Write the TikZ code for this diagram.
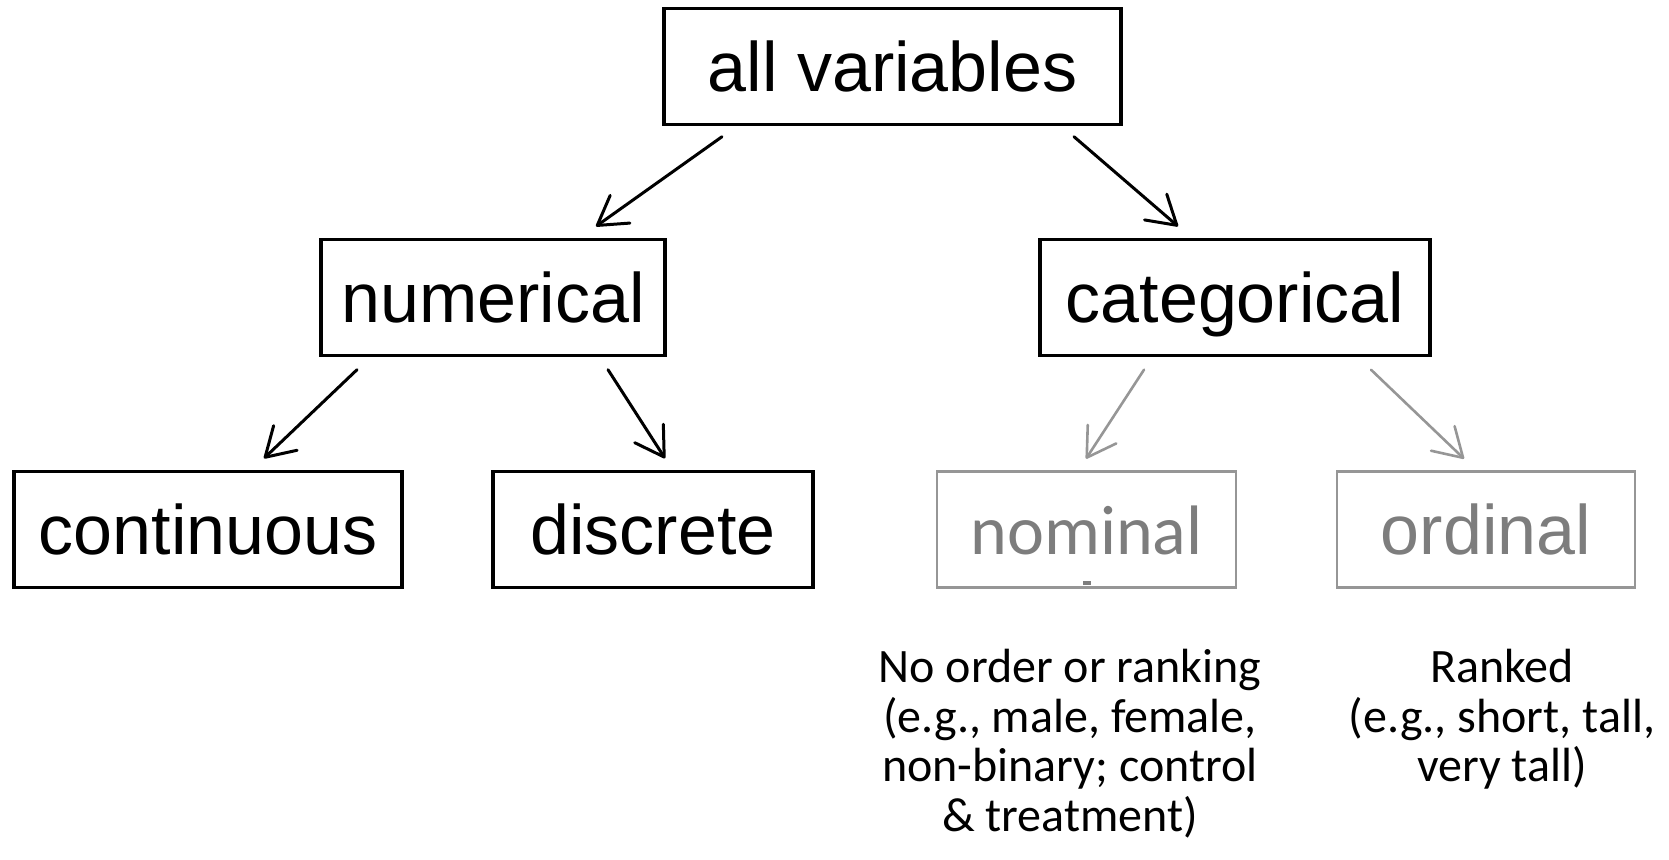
\documentclass[tikz,border=0pt]{standalone}
\usepackage{fontspec}
\setmainfont{Liberation Sans}
\newfontfamily\calibri{Carlito}
\usetikzlibrary{arrows.meta,calc}
\definecolor{mutedtext}{RGB}{125,125,125}
\definecolor{mutedline}{RGB}{150,150,150}
\begin{document}
\begin{tikzpicture}[x=0.5pt,y=-0.5pt,
  box/.style={draw, line width=1.7pt, inner sep=0pt, minimum height=58pt,
    text height=25.2pt, text depth=0pt, font=\fontsize{35}{40}\selectfont},
  mutedbox/.style={box, draw=mutedline, line width=1.3pt, text=mutedtext},
  arr/.style={line width=1.5pt, line cap=round,
    -{Straight Barb[length=14pt,width=17pt,line width=1.5pt,round]}},
  mutedarr/.style={arr, draw=mutedline, line width=1.3pt,
    -{Straight Barb[length=14pt,width=17pt,line width=1.3pt,round]}},
  note/.style={font=\calibri\fontsize{24}{24.8}\selectfont, align=center, inner sep=0pt, anchor=north}]
\useasboundingbox (0,0) rectangle (1669,859);

% boxes
\node[box, minimum width=228.5pt] (all) at (892.5,66.5) {all variables};
\node[box, minimum width=172pt] (num) at (493,297.5) {numerical};
\node[box, minimum width=195pt] (cat) at (1235,297.5) {categorical};
\node[box, minimum width=194pt] (cont) at (208,529.5) {continuous};
\node[box, minimum width=160pt] (disc) at (653,529.5) {discrete};
\node[mutedbox, minimum width=149.5pt, font=\calibri\fontsize{35}{40}\selectfont] (nom) at (1086.5,529.5) {nominal};
\node[mutedbox, minimum width=149pt] (ord) at (1486,529.5) {ordinal};

% small stray mark inside the nominal box
\fill[mutedtext] ($(nom.south)+(-4,-8)$) rectangle ++(8,4);

% connectors
\draw[arr] ($(all.south)+(-170.5,10.5)$) -- ($(num.north)+(103,-11.5)$);
\draw[arr] ($(all.south)+(181.5,10.5)$) -- ($(cat.north)+(-57,-11.5)$);
\draw[arr] ($(num.south)+(-136,12.5)$) -- ($(cont.north)+(56,-11.5)$);
\draw[arr] ($(num.south)+(115,12.5)$) -- ($(disc.north)+(12,-11.5)$);
\draw[mutedarr] ($(cat.south)+(-91,12.5)$) -- ($(nom.north)+(-0.5,-11.5)$);
\draw[mutedarr] ($(cat.south)+(136,12.5)$) -- ($(ord.north)+(-22,-11.5)$);

% descriptions
\node[note] (nomnote) at (1070,649) {No order or ranking\\(e.g., male, female,\\non-binary; control\\\& treatment)};
\node[note] (ordnote) at (1502,649) {Ranked\\(e.g., short, tall,\\very tall)};
\end{tikzpicture}
\end{document}
